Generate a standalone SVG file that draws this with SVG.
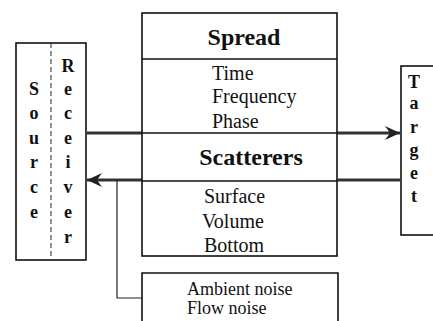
<svg xmlns="http://www.w3.org/2000/svg" width="433" height="321" viewBox="0 0 433 321">
  <style>
    .box { fill: #fff; stroke: #111; stroke-width: 1.6; }
    .rule { stroke: #111; stroke-width: 1.3; fill: none; }
    .dash { stroke: #222; stroke-width: 1; stroke-dasharray: 5 3; fill: none; }
    .letter { font-family: "Liberation Serif", "Times New Roman", serif; font-weight: bold; font-size: 18px; fill: #111; text-anchor: middle; }
    .head { font-family: "Liberation Serif", "Times New Roman", serif; font-weight: bold; font-size: 24px; fill: #111; text-anchor: middle; }
    .item { font-family: "Liberation Serif", "Times New Roman", serif; font-size: 20px; fill: #111; }
    .small { font-family: "Liberation Serif", "Times New Roman", serif; font-size: 18px; fill: #111; }
    .flow { stroke: #333; stroke-width: 3; fill: none; }
    .link { stroke: #222; stroke-width: 1.2; fill: none; }
  </style>
  <defs>
    <marker id="barb" markerUnits="userSpaceOnUse" markerWidth="16" markerHeight="14" refX="15" refY="7" orient="auto">
      <path d="M0,0 L15,7 L0,14 L5,7 z" fill="#222"/>
    </marker>
  </defs>

  <g id="connectors">
    <line class="flow" x1="87" y1="133" x2="400" y2="133" marker-end="url(#barb)"/>
    <line class="flow" x1="400" y1="180" x2="87" y2="180" marker-end="url(#barb)"/>
    <polyline class="link" points="117,180 117,298 142,298"/>
  </g>

  <g id="source-receiver">
    <rect class="box" x="16" y="43" width="70" height="217"/>
    <line class="dash" x1="51" y1="43" x2="51" y2="260"/>
    <text class="letter" x="34" y="95">S</text>
    <text class="letter" x="34" y="119">o</text>
    <text class="letter" x="34" y="144">u</text>
    <text class="letter" x="34" y="168">r</text>
    <text class="letter" x="34" y="193">c</text>
    <text class="letter" x="34" y="218">e</text>
    <text class="letter" x="68" y="72">R</text>
    <text class="letter" x="68" y="95">e</text>
    <text class="letter" x="68" y="119">c</text>
    <text class="letter" x="68" y="144">e</text>
    <text class="letter" x="68" y="168">i</text>
    <text class="letter" x="68" y="193">v</text>
    <text class="letter" x="68" y="218">e</text>
    <text class="letter" x="68" y="243">r</text>
  </g>

  <g id="channel">
    <rect class="box" x="142" y="13" width="195" height="243"/>
    <line class="rule" x1="142" y1="59" x2="337" y2="59"/>
    <line class="rule" x1="142" y1="133" x2="337" y2="133"/>
    <line class="rule" x1="142" y1="181" x2="337" y2="181"/>
    <text class="head" x="244" y="45">Spread</text>
    <text class="item" x="212" y="80">Time</text>
    <text class="item" x="212" y="103">Frequency</text>
    <text class="item" x="212" y="128">Phase</text>
    <text class="head" x="251" y="165">Scatterers</text>
    <text class="item" x="204" y="203">Surface</text>
    <text class="item" x="202" y="228">Volume</text>
    <text class="item" x="204" y="252">Bottom</text>
  </g>

  <g id="noise">
    <polyline class="box" points="142,322 142,273 338,273 338,322"/>
    <text class="small" x="187" y="295">Ambient noise</text>
    <text class="small" x="187" y="314">Flow noise</text>
  </g>

  <g id="target">
    <rect class="box" x="401" y="66" width="40" height="169"/>
    <text class="letter" x="414" y="88">T</text>
    <text class="letter" x="414" y="109">a</text>
    <text class="letter" x="414" y="133">r</text>
    <text class="letter" x="414" y="156">g</text>
    <text class="letter" x="414" y="179">e</text>
    <text class="letter" x="414" y="202">t</text>
  </g>
</svg>
